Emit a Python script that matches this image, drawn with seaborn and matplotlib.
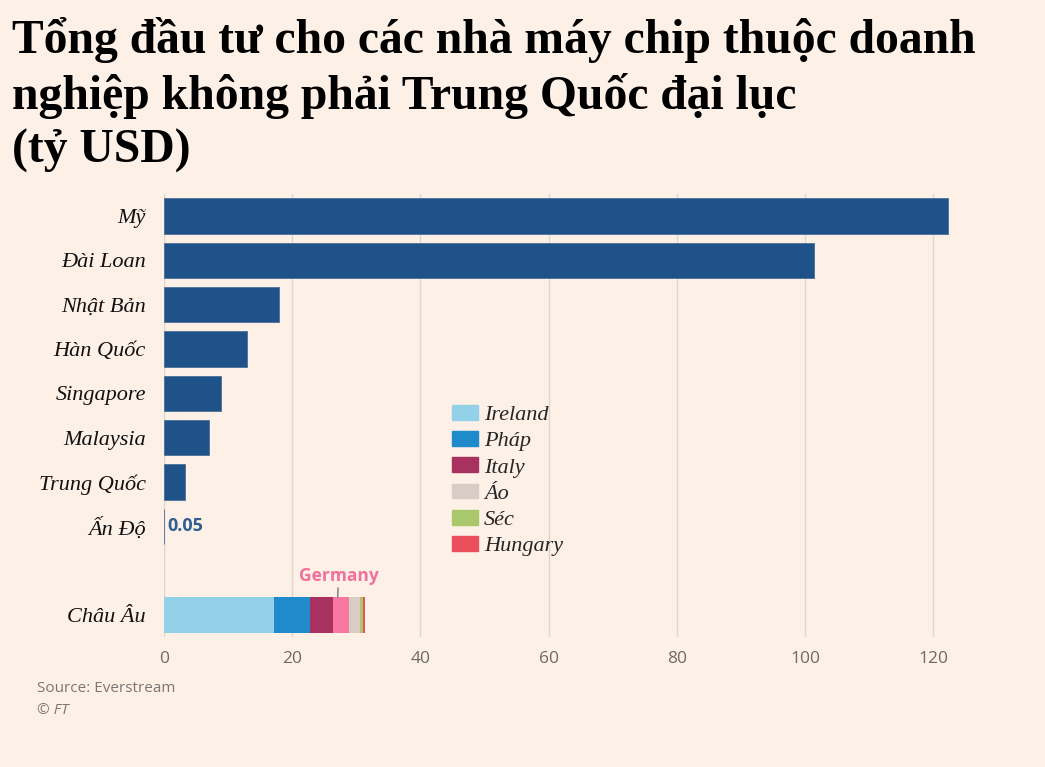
import matplotlib
matplotlib.use("Agg")
import matplotlib.pyplot as plt
import matplotlib.patches as mpatches
import seaborn as sns
import pandas as pd
import numpy as np

# ---- data ----
countries = ["Mỹ", "Đài Loan", "Nhật Bản", "Hàn Quốc", "Singapore",
             "Malaysia", "Trung Quốc", "Ấn Độ"]
values = [122.3, 101.4, 17.9, 13.0, 8.9, 7.0, 3.2, 0.05]

europe_label = "Châu Âu"
europe_parts = ["Ireland", "Pháp", "Italy", "Germany", "Áo", "Séc", "Hungary"]
europe_values = [17.1, 5.6, 3.7, 2.4, 1.8, 0.45, 0.3]
legend_parts = ["Ireland", "Pháp", "Italy", "Áo", "Séc", "Hungary"]

x_ticks = [0, 20, 40, 60, 80, 100, 120]

title = "Tổng đầu tư cho các nhà máy chip thuộc doanh\nnghiệp không phải Trung Quốc đại lục\n(tỷ USD)"
source_lines = ["Source: Everstream", "© FT"]

# ---- styles ----
BG = "#fdf0e6"
BAR = "#20528a"
part_colors = {
    "Ireland": "#92d1e8",
    "Pháp": "#1f8bcb",
    "Italy": "#a8325f",
    "Germany": "#f878a2",
    "Áo": "#d8cdc6",
    "Séc": "#a9c86c",
    "Hungary": "#e9505b",
}
SERIF = ["Liberation Serif", "DejaVu Serif"]
SANS = ["Open Sans", "DejaVu Sans"]

sns.set_theme(style="white")
plt.rcParams["font.family"] = SANS

W, H = 1045, 767
fig = plt.figure(figsize=(W / 100, H / 100), dpi=100, facecolor=BG)

px_per_unit = 6.41
xmax = 128
left_px, top_px, bottom_px = 164, 194, 637
ax = fig.add_axes([left_px / W, 1 - bottom_px / H,
                   xmax * px_per_unit / W, (bottom_px - top_px) / H])
ax.set_facecolor(BG)

order = countries + [" ", europe_label]
df = pd.DataFrame({"country": countries, "value": values})
sns.barplot(data=df, x="value", y="country", order=order, color=BAR,
            saturation=1, width=0.8, ax=ax, zorder=3,
            edgecolor="#4a6f99", linewidth=0.6)

# stacked Europe bar: draw cumulative sums from largest to smallest
cum = np.cumsum(europe_values)
for part, c in reversed(list(zip(europe_parts, cum))):
    sns.barplot(x=[c], y=[europe_label], order=order, color=part_colors[part],
                saturation=1, width=0.8, ax=ax, zorder=3, linewidth=0)

ax.set_xlim(0, xmax)
ax.set_ylim(len(order) - 0.5, -0.5)
ax.set_xticks(x_ticks)
ax.set_xticklabels([str(t) for t in x_ticks])
ax.set_xlabel("")
ax.set_ylabel("")
for s in ax.spines.values():
    s.set_visible(False)
ax.grid(axis="x", color="#ddd5ce", linewidth=1, zorder=0)
ax.grid(axis="y", visible=False)
ax.tick_params(axis="x", length=0, pad=10, labelsize=12.5, labelcolor="#6e6a67")
ax.tick_params(axis="y", length=0, pad=13)
for lbl in ax.get_yticklabels():
    lbl.set_fontfamily(SERIF)
    lbl.set_fontstyle("italic")
    lbl.set_fontsize(16)
    lbl.set_color("#111111")

# value label for Ấn Độ
ax.annotate("0.05", xy=(values[-1], countries.index("Ấn Độ")),
            xytext=(2, 0), textcoords="offset points", va="center", ha="left",
            fontsize=13, fontweight="bold", color="#2f5e92", family=SANS)

# Germany annotation
g_idx = europe_parts.index("Germany")
g_mid = cum[g_idx] - europe_values[g_idx] / 2
ax.annotate("Germany", xy=(g_mid - 0.5, order.index(europe_label) - 0.4),
            xytext=(0.5, 9), textcoords="offset points", ha="center", va="bottom",
            fontsize=12.5, fontweight="bold", color="#f0719b", family=SANS,
            arrowprops=dict(arrowstyle="-", color="#777777", lw=1,
                            shrinkA=0, shrinkB=0))

# legend
handles = [mpatches.Patch(color=part_colors[p], label=p) for p in legend_parts]
leg = fig.legend(handles=handles, loc="upper left",
                 bbox_to_anchor=(443 / W, 1 - 396 / H), frameon=False,
                 handlelength=1.17, handleheight=0.65, handletextpad=0.27,
                 labelspacing=0.27, borderaxespad=0,
                 prop={"family": SERIF, "style": "italic", "size": 16})

# title
fig.text(12 / W, 1 - 17 / H, title, ha="left", va="top",
         fontsize=34.3, fontweight="bold", family=SERIF, color="#000000",
         linespacing=1.28)

# source
fig.text(37 / W, 1 - 689 / H, source_lines[0], ha="left", va="center",
         fontsize=11, color="#7a7673", family=SANS)
fig.text(37 / W, 1 - 711 / H, source_lines[1], ha="left", va="center",
         fontsize=11, color="#7a7673", family=SANS, style="italic")

fig.savefig("out.png", dpi=100, facecolor=BG)
